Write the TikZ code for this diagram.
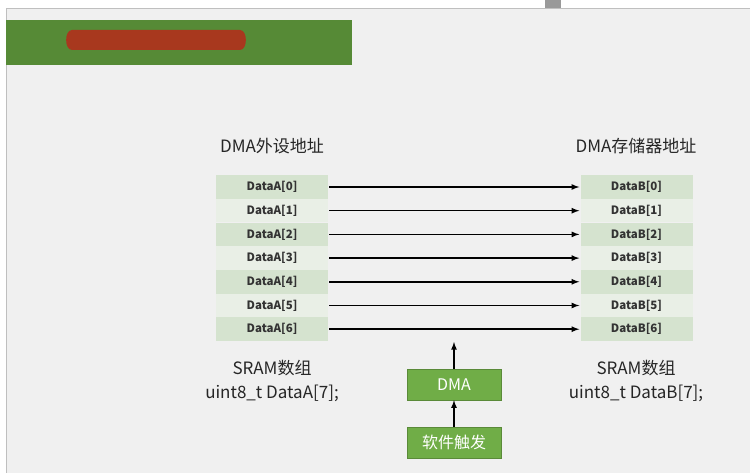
\documentclass[tikz,border=0pt]{standalone}
\usepackage{fontspec}
\setmainfont{Noto Sans CJK SC}
\usetikzlibrary{positioning}
\definecolor{bg}{HTML}{F0F0F0}
\definecolor{celldark}{HTML}{D5E3CF}
\definecolor{celllight}{HTML}{E9EFE6}
\definecolor{dmagreen}{HTML}{70AD47}
\definecolor{bannergreen}{HTML}{568A36}
\definecolor{blobred}{HTML}{A8381E}
\tikzstyle{cell}=[rectangle,minimum width=112pt,minimum height=23.6pt,inner sep=0pt,font=\fontsize{11.5}{13}\selectfont\bfseries,text=black!80]
\tikzstyle{ctrl}=[rectangle,fill=dmagreen,draw=dmagreen!80!black,minimum width=94pt,minimum height=31pt,text=white,font=\fontsize{16}{18}\selectfont]
\tikzstyle{annot}=[align=center,font=\fontsize{17}{24}\selectfont,text=black!85]
\tikzstyle{flow}=[-latex,line width=1.6pt]
\begin{document}
\begin{tikzpicture}[x=1pt,y=-1pt]
	\useasboundingbox (0,0) rectangle (750,473);
	\fill[white] (0,0) rectangle (750,473);
	\fill[bg,draw=black!25] (6,8) rectangle (760,480);
	\fill[black!40] (545,0) rectangle (561,8);
	% banner
	\fill[bannergreen] (6,20) rectangle (352,65);
	\fill[blobred] (72,30) -- (240,30) to[out=0,in=0] (240,50) -- (72,50) to[out=180,in=180] cycle;

	\node[annot] (titleA) at (272,146) {DMA外设地址};
	\node[annot] (titleB) at (636,146) {DMA存储器地址};

	\foreach \i in {0,...,6}{
		\pgfmathtruncatemacro{\odd}{mod(\i,2)}
		\ifnum\odd=0 \def\cfill{celldark}\else \def\cfill{celllight}\fi
		\node[cell,fill=\cfill] (a\i) at (272,187+23.7*\i) {DataA[\i]};
		\node[cell,fill=\cfill] (b\i) at (636.5,187+23.7*\i) {DataB[\i]};
		\draw[flow] (a\i.east) ++(1,0) -- ([xshift=-1pt]b\i.west);
	}

	\node[annot] (sramA) at (272,381) {SRAM数组\\uint8\_t DataA[7];};
	\node[annot] (sramB) at (636,381) {SRAM数组\\uint8\_t DataB[7];};

	\node[ctrl] (dma) at (454,384.5) {DMA};
	\node[ctrl] (trig) at (454,442.5) {软件触发};
	\coordinate (top) at (454,342);
	\draw[flow] (trig.north) -- (dma.south);
	\draw[flow] (dma.north) -- (top);
\end{tikzpicture}
\end{document}
